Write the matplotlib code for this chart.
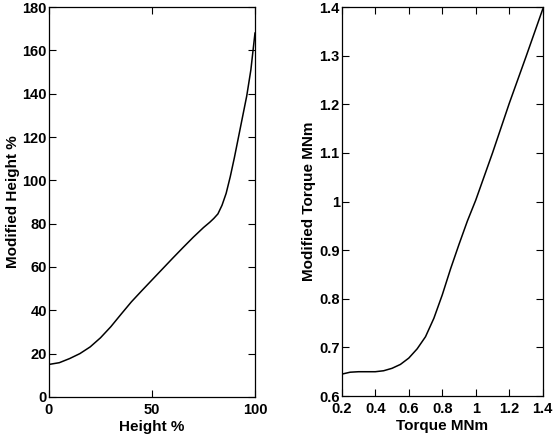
import numpy as np
import matplotlib.pyplot as plt

# values
height = [0, 5, 10, 15, 20, 25, 30, 35, 40, 45, 50, 55, 60, 65, 70, 75, 78, 80, 82, 84, 86, 88, 90, 92, 94, 96, 98, 100]
mod_height = [15, 15.8, 17.7, 20.0, 23.1, 27.3, 32.4, 38.2, 43.9, 49.0, 54.0, 59.0, 64.0, 68.9, 73.7, 78.2, 80.6, 82.4, 84.5, 88.5, 94.0, 101.7, 110.5, 120.0, 129.5, 139.0, 151.0, 168.0]

torque = [0.2, 0.25, 0.3, 0.35, 0.4, 0.45, 0.5, 0.55, 0.6, 0.65, 0.7, 0.75, 0.8, 0.85, 0.9, 0.95, 1.0, 1.1, 1.2, 1.3, 1.4]
mod_torque = [0.645, 0.649, 0.650, 0.650, 0.650, 0.652, 0.657, 0.665, 0.678, 0.697, 0.722, 0.760, 0.808, 0.862, 0.912, 0.960, 1.003, 1.100, 1.202, 1.298, 1.396]

plt.rcParams['font.family'] = ['Liberation Sans', 'DejaVu Sans']
plt.rcParams['font.weight'] = 'bold'
plt.rcParams['axes.labelweight'] = 'bold'
plt.rcParams['font.size'] = 10.5
plt.rcParams['axes.labelsize'] = 11

fig = plt.figure(figsize=(5.53, 4.42), dpi=100)
ax1 = fig.add_axes([0.0886, 0.102, 0.3725, 0.882])
ax2 = fig.add_axes([0.618, 0.104, 0.3635, 0.880])

ax1.plot(height, mod_height, color='black', lw=1.1)
ax1.set_xlim(0, 100)
ax1.set_ylim(0, 180)
ax1.set_xticks([0, 50, 100])
ax1.set_yticks(np.arange(0, 181, 20))
ax1.set_xlabel("Height %", labelpad=2)
ax1.set_ylabel("Modified Height %", labelpad=2)

ax2.plot(torque, mod_torque, color='black', lw=1.1)
ax2.set_xlim(0.2, 1.4)
ax2.set_ylim(0.6, 1.4)
ax2.set_xticks([0.2, 0.4, 0.6, 0.8, 1.0, 1.2, 1.4])
ax2.set_xticklabels(['0.2', '0.4', '0.6', '0.8', '1', '1.2', '1.4'])
ax2.set_yticks([0.6, 0.7, 0.8, 0.9, 1.0, 1.1, 1.2, 1.3, 1.4])
ax2.set_yticklabels(['0.6', '0.7', '0.8', '0.9', '1', '1.1', '1.2', '1.3', '1.4'])
ax2.set_xlabel("Torque MNm", labelpad=2)
ax2.set_ylabel("Modified Torque MNm", labelpad=2)

for ax in (ax1, ax2):
    ax.tick_params(direction='in', top=True, right=True, length=5, width=0.8)
    ax.tick_params(axis='x', pad=4.5)
    ax.tick_params(axis='y', pad=1.5)
    for lab in ax.get_xticklabels() + ax.get_yticklabels():
        lab.set_fontweight('bold')
    for s in ax.spines.values():
        s.set_linewidth(0.9)

fig.savefig("out.png", dpi=100)
